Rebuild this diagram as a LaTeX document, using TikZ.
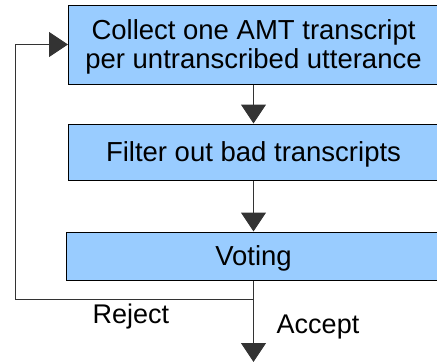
\documentclass[tikz,border=0pt]{standalone}
\usepackage{fontspec}
\setmainfont{Liberation Sans}
\usetikzlibrary{arrows.meta}
\definecolor{boxblue}{HTML}{99CCFF}
\definecolor{linegray}{HTML}{333333}
\tikzset{
  stepbox/.style={draw=black, line width=1pt, fill=boxblue, rectangle, inner sep=0pt,
    minimum width=370pt, align=center, text depth=0pt, font=\fontsize{27.5}{29}\selectfont},
  conn/.style={draw=linegray, line width=1pt, -{Triangle[length=19pt,width=25pt]}},
  lbl/.style={font=\fontsize{27}{32}\selectfont, inner sep=0pt}
}
\begin{document}
\begin{tikzpicture}[x=1pt,y=-1pt]
\useasboundingbox (0,0) rectangle (437,362);
\clip (0,0) rectangle (437,362);
\node[stepbox, minimum height=79pt] (collect) at (253.5,44.5) {Collect one AMT transcript\\per untranscribed utterance};
\node[stepbox, minimum height=56pt] (filter) at (253.5,152) {Filter out bad transcripts};
\node[stepbox, minimum height=48pt, minimum width=374pt] (voting) at (253.5,256) {Voting};
\coordinate (split) at (253.5,299);
\coordinate (corner) at (15,299);
\coordinate (out) at (253.5,362);
\draw[conn] (collect.south) -- (filter.north);
\draw[conn] (filter.south) -- (voting.north);
\draw[conn] (voting.south) -- (out);
\draw[conn] (split) -- (corner) |- (collect.west);
\node[lbl] (reject) at (131,317) {Reject};
\node[lbl] (accept) at (318,327) {Accept};
\end{tikzpicture}
\end{document}
